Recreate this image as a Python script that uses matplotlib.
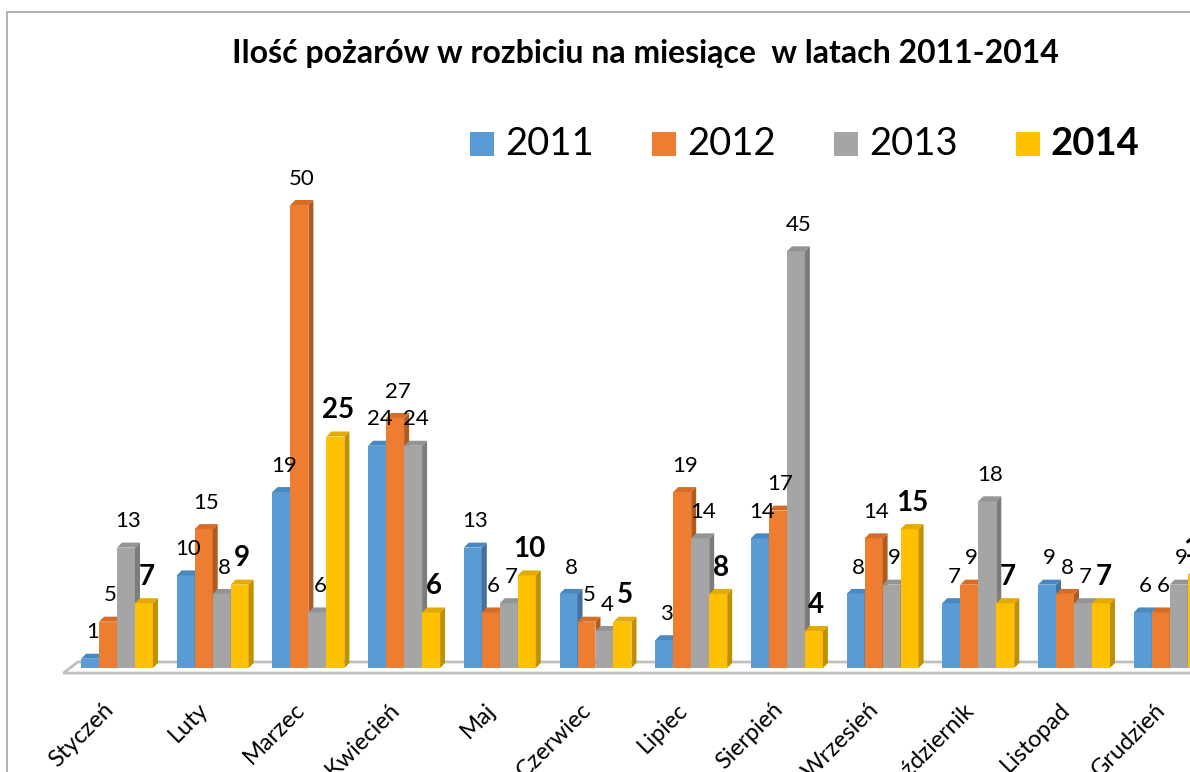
import numpy as np
import matplotlib
matplotlib.use('Agg')
import matplotlib.pyplot as plt
from matplotlib.patches import Polygon, Rectangle

plt.rcParams['font.family'] = ['Lato', 'DejaVu Sans']

months = ['Styczeń', 'Luty', 'Marzec', 'Kwiecień', 'Maj', 'Czerwiec',
          'Lipiec', 'Sierpień', 'Wrzesień', 'Październik', 'Listopad', 'Grudzień']
years = ['2011', '2012', '2013', '2014']
fires_2011 = [1, 10, 19, 24, 13, 8, 3, 14, 8, 7, 9, 6]
fires_2012 = [5, 15, 50, 27, 6, 5, 19, 17, 14, 9, 8, 6]
fires_2013 = [13, 8, 6, 24, 7, 4, 14, 45, 9, 18, 7, 9]
fires_2014 = [7, 9, 25, 6, 10, 5, 8, 4, 15, 7, 7, 10]
series = [fires_2011, fires_2012, fires_2013, fires_2014]

colors = ['#5B9BD5', '#ED7D31', '#A5A5A5', '#FFC000']
side_colors = ['#41719C', '#AE5A21', '#7C7C7C', '#BF9000']
top_colors = ['#4A88C2', '#D66D27', '#949494', '#E3AB00']

W, H = 1190, 772
fig = plt.figure(figsize=(W / 100, H / 100), dpi=100)

# layout in pixels (from top-left)
x0_px, step_px = 117.0, 95.7      # centre of first month group, group spacing
y0_px, unit_px = 668.0, 9.26      # baseline, pixels per fire
xmin, xmax = -0.65, (W - x0_px) / step_px
ymin, ymax = -1.5, 55
left = x0_px + xmin * step_px
bottom = H - (y0_px - ymin * unit_px)
top = H - (y0_px - ymax * unit_px)
ax = fig.add_axes([left / W, bottom / H, (W - left) / W, (top - bottom) / H])
ax.set_xlim(xmin, xmax)
ax.set_ylim(ymin, ymax)
ax.axis('off')

# chart frame (clipped at right/bottom)
fig.add_artist(Rectangle((7 / W, -0.1), 1.2, (H - 12) / H + 0.1, transform=fig.transFigure,
                         fill=False, edgecolor='#a6a6a6', lw=1.2))

x = np.arange(len(months))
w = 0.188
dx, dy = 5 / step_px, 5 / unit_px

# floor
fl_front, fl_back = -0.55, 0.65
ax.add_patch(Polygon([(xmin + 0.09, fl_front), (xmin + 0.24, fl_back), (xmax + 1, fl_back),
                      (xmax + 1, fl_front)], closed=True, facecolor='white',
                     edgecolor='#bfbfbf', lw=2, zorder=1, clip_on=False))

for s, vals in enumerate(series):
    xs = x + (s - 1.5) * w
    ax.bar(xs, vals, w, color=colors[s], lw=0, zorder=2 + s)
    for xi, v in zip(xs, vals):
        l, r = xi - w / 2, xi + w / 2
        ax.add_patch(Polygon([(r, 0), (r + dx, dy), (r + dx, v + dy), (r, v)],
                             closed=True, facecolor=side_colors[s], lw=0, zorder=2 + s))
        ax.add_patch(Polygon([(l, v), (l + dx, v + dy), (r + dx, v + dy), (r, v)],
                             closed=True, facecolor=top_colors[s], lw=0, zorder=2 + s))
        if s == 3:
            ax.annotate(str(v), (xi + dx / 2, v), xytext=(0, 19), textcoords='offset points',
                        ha='center', va='center', fontsize=20, fontweight='bold', zorder=10,
                        annotation_clip=False)
        else:
            ax.annotate(str(v), (xi + dx / 2, v), xytext=(0, 19), textcoords='offset points',
                        ha='center', va='center', fontsize=16, zorder=10,
                        annotation_clip=False)

# month labels
lab_y = -(699 - y0_px) / unit_px
for xi, m in zip(x, months):
    ax.text(xi, lab_y, m, rotation=45, ha='right', va='top', fontsize=17)

# title
fig.text(645 / W, 1 - 54 / H, 'Ilość pożarów w rozbiciu na miesiące  w latach 2011-2014',
         ha='center', va='center', fontsize=23, fontweight='bold')

# legend
for i, (yr, c) in enumerate(zip(years, colors)):
    lx = 470 + i * 182
    fig.add_artist(Rectangle((lx / W, 1 - 156 / H), 24 / W, 24 / H,
                             transform=fig.transFigure, facecolor=c, lw=0))
    fig.text((lx + 35) / W, 1 - 144 / H, yr, ha='left', va='center', fontsize=27.5,
             fontweight='bold' if yr == '2014' else 'normal')

fig.savefig('out.png', dpi=100)
